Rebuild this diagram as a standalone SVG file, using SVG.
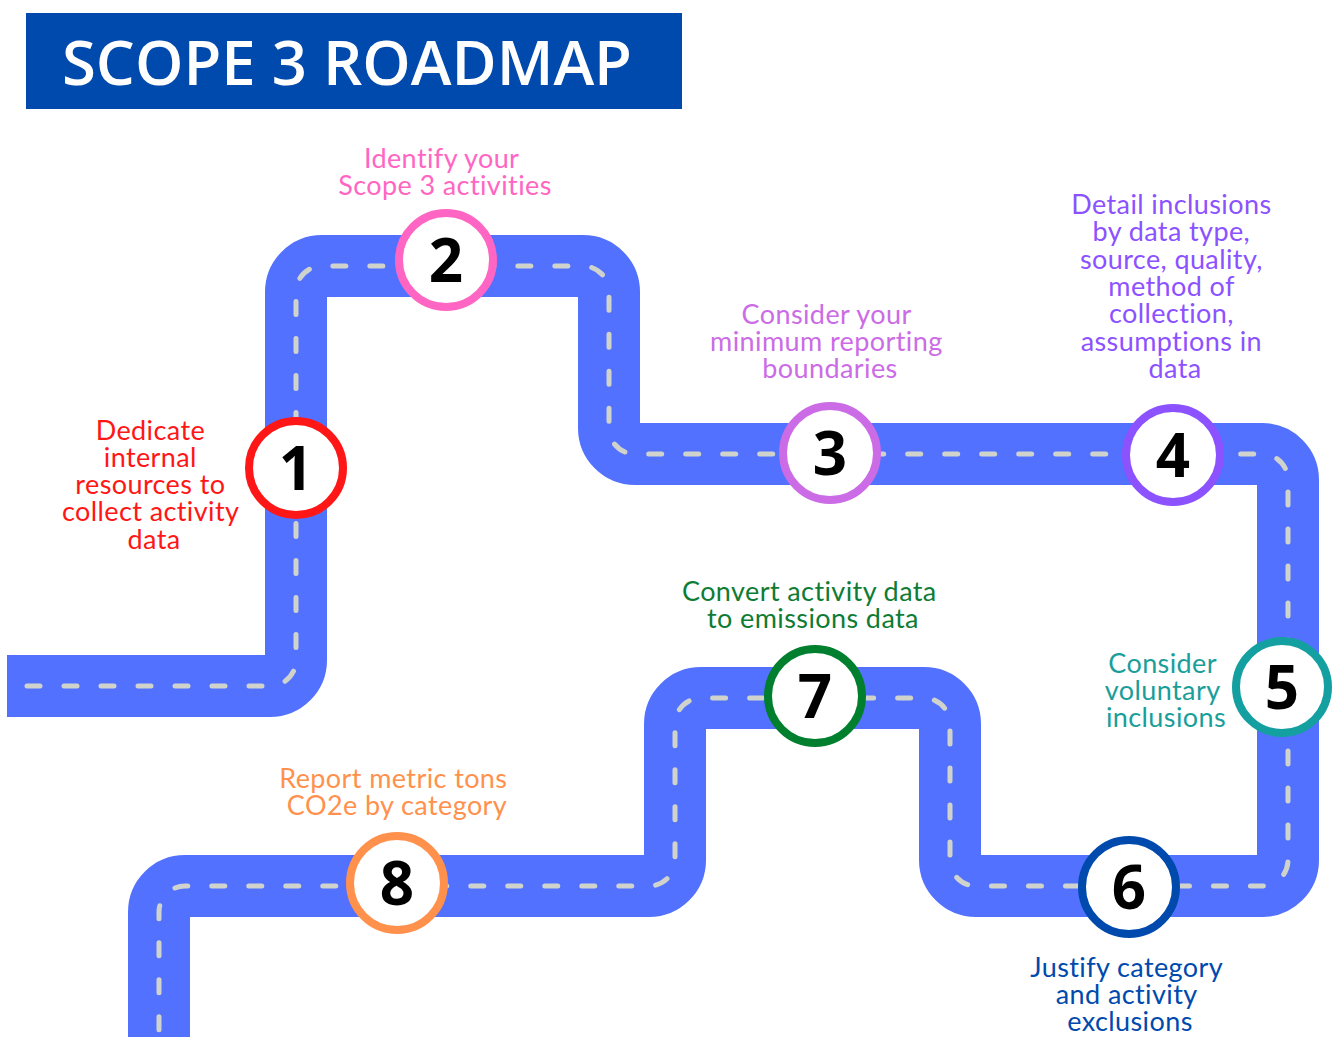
<svg xmlns="http://www.w3.org/2000/svg" width="1332" height="1037" viewBox="0 0 1332 1037">
  <style>
    .road { fill: none; stroke: #5271FF; stroke-width: 62; stroke-linejoin: miter; }
    .lane { fill: none; stroke: #D0D3CB; stroke-width: 5; stroke-dasharray: 13 24; stroke-linecap: round; }
    .stop { fill: #FFFFFF; stroke-width: 8; }
    .num { font-family: "Open Sans", "DejaVu Sans", sans-serif; font-weight: 700; font-size: 60px; fill: #000000; text-anchor: middle; }
    .lbl { font-family: Lato, "Liberation Sans", sans-serif; font-size: 27px; letter-spacing: 0.4px; text-anchor: middle; }
    .title { font-family: "Open Sans", "DejaVu Sans", sans-serif; font-weight: 600; font-size: 62px; fill: #FFFFFF; }
  </style>

  <rect width="1332" height="1037" fill="#FFFFFF"/>

  <!-- Header banner -->
  <g id="header">
    <rect x="26" y="13" width="656" height="96" fill="#004AAD"/>
    <text class="title" x="62" y="85" textLength="570" lengthAdjust="spacingAndGlyphs">SCOPE 3 ROADMAP</text>
  </g>

  <!-- Winding road with centre lane markings -->
  <g id="connectors">
    <path id="route" class="road" d="M7,686 H270 A26,26 0 0 0 296,660 V292 A26,26 0 0 1 322,266 H583 A26,26 0 0 1 609,292 V428 A26,26 0 0 0 635,454 H1262 A26,26 0 0 1 1288,480 V860 A26,26 0 0 1 1262,886 H976 A26,26 0 0 1 950,860 V724 A26,26 0 0 0 924,698 H701 A26,26 0 0 0 675,724 V860 A26,26 0 0 1 649,886 H185 A26,26 0 0 0 159,912 V1040"/>
    <path class="lane" d="M27,686 H270 A26,26 0 0 0 296,660 V292 A26,26 0 0 1 322,266 H583 A26,26 0 0 1 609,292 V428 A26,26 0 0 0 635,454 H1262 A26,26 0 0 1 1288,480 V860 A26,26 0 0 1 1262,886 H976 A26,26 0 0 1 950,860 V724 A26,26 0 0 0 924,698 H701 A26,26 0 0 0 675,724 V860 A26,26 0 0 1 649,886 H185 A26,26 0 0 0 159,912 V1040"/>
  </g>

  <!-- Step 1 -->
  <g id="step1">
    <circle class="stop" cx="296" cy="468" r="47" stroke="#FF1616"/>
    <text class="num" x="296" y="490">1</text>
    <text class="lbl" fill="#FF1616">
      <tspan x="154" y="440">Dedicate</tspan>
      <tspan x="154" y="467">internal</tspan>
      <tspan x="154" y="494">resources to</tspan>
      <tspan x="154" y="521">collect activity</tspan>
      <tspan x="154" y="549">data</tspan>
    </text>
  </g>

  <!-- Step 2 -->
  <g id="step2">
    <circle class="stop" cx="446" cy="260" r="47" stroke="#FF66C4"/>
    <text class="num" x="446" y="282">2</text>
    <text class="lbl" fill="#FF66C4">
      <tspan x="445" y="168">Identify your</tspan>
      <tspan x="445" y="195">Scope 3 activities</tspan>
    </text>
  </g>

  <!-- Step 3 -->
  <g id="step3">
    <circle class="stop" cx="830" cy="453" r="47" stroke="#CB6CE6"/>
    <text class="num" x="830" y="475">3</text>
    <text class="lbl" fill="#CB6CE6">
      <tspan x="830" y="324">Consider your</tspan>
      <tspan x="830" y="351">minimum reporting</tspan>
      <tspan x="830" y="378">boundaries</tspan>
    </text>
  </g>

  <!-- Step 4 -->
  <g id="step4">
    <circle class="stop" cx="1173" cy="455" r="47" stroke="#8C52FF"/>
    <text class="num" x="1173" y="477">4</text>
    <text class="lbl" fill="#8C52FF">
      <tspan x="1175" y="214">Detail inclusions</tspan>
      <tspan x="1175" y="241">by data type,</tspan>
      <tspan x="1175" y="269">source, quality,</tspan>
      <tspan x="1175" y="296">method of</tspan>
      <tspan x="1175" y="323">collection,</tspan>
      <tspan x="1175" y="351">assumptions in</tspan>
      <tspan x="1175" y="378">data</tspan>
    </text>
  </g>

  <!-- Step 5 -->
  <g id="step5">
    <circle class="stop" cx="1282" cy="687" r="46" stroke="#14A0A0"/>
    <text class="num" x="1282" y="709">5</text>
    <text class="lbl" fill="#1A9E9A">
      <tspan x="1166" y="673">Consider</tspan>
      <tspan x="1166" y="700">voluntary</tspan>
      <tspan x="1166" y="727">inclusions</tspan>
    </text>
  </g>

  <!-- Step 6 -->
  <g id="step6">
    <circle class="stop" cx="1129" cy="887" r="47" stroke="#004AAD"/>
    <text class="num" x="1129" y="909">6</text>
    <text class="lbl" fill="#004AAD">
      <tspan x="1130" y="977">Justify category</tspan>
      <tspan x="1130" y="1004">and activity</tspan>
      <tspan x="1130" y="1031">exclusions</tspan>
    </text>
  </g>

  <!-- Step 7 -->
  <g id="step7">
    <circle class="stop" cx="815" cy="696" r="47" stroke="#00802F"/>
    <text class="num" x="815" y="718">7</text>
    <text class="lbl" fill="#0E7C34">
      <tspan x="813" y="601">Convert activity data</tspan>
      <tspan x="813" y="628">to emissions data</tspan>
    </text>
  </g>

  <!-- Step 8 -->
  <g id="step8">
    <circle class="stop" cx="397" cy="883" r="47" stroke="#FF914D"/>
    <text class="num" x="397" y="905">8</text>
    <text class="lbl" fill="#FF914D">
      <tspan x="397" y="788">Report metric tons</tspan>
      <tspan x="397" y="815">CO2e by category</tspan>
    </text>
  </g>
</svg>
